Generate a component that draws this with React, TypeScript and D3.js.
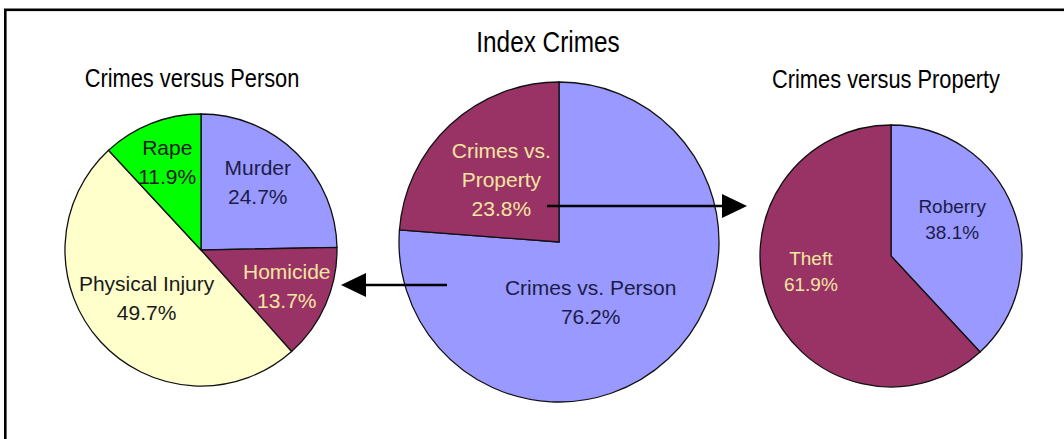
import React from "react";
import * as d3 from "d3";

// ---- data ----
const personCategories = ["Murder", "Homicide", "Physical Injury", "Rape"];
const personValues = [24.7, 13.7, 49.7, 11.9];

const indexCategories = ["Crimes vs. Person", "Crimes vs. Property"];
const indexLabelLines = [["Crimes vs. Person"], ["Crimes vs.", "Property"]];
const indexValues = [76.2, 23.8];

const propertyCategories = ["Roberry", "Theft"];
const propertyValues = [38.1, 61.9];

const titles = ["Crimes versus Person", "Index Crimes", "Crimes versus Property"];

// ---- styles / layout ----
const LAV = "#9999FF";
const PLUM = "#993366";
const CREAM = "#FFFFCC";
const GREEN = "#00FF00";
const DARK = "#1c1c48";
const BLACK = "#1a1a1a";
const LIGHT = "#F5E6A0";
const FONT = "'Liberation Sans', Arial, sans-serif";

type PieSpec = {
  cx: number; cy: number; r: number;
  labels: string[][]; values: number[];
  colors: string[]; textColors: string[];
  labelK: number; nudges: [number, number][];
  fontSize: number; lineH: number;
};

const pies: PieSpec[] = [
  {
    cx: 201, cy: 250, r: 136,
    labels: personCategories.map((c) => [c]),
    values: personValues,
    colors: [LAV, PLUM, CREAM, GREEN],
    textColors: [DARK, LIGHT, BLACK, BLACK],
    labelK: 0.68,
    nudges: [[-8, -2], [1, -1], [14, -14], [0, -2]],
    fontSize: 21, lineH: 28.5,
  },
  {
    cx: 559, cy: 242, r: 160,
    labels: indexLabelLines,
    values: indexValues,
    colors: [LAV, PLUM],
    textColors: [DARK, LIGHT],
    labelK: 0.53,
    nudges: [[-26, -2], [0, 0]],
    fontSize: 21, lineH: 29,
  },
  {
    cx: 891, cy: 256, r: 131,
    labels: propertyCategories.map((c) => [c]),
    values: propertyValues,
    colors: [LAV, PLUM],
    textColors: [DARK, LIGHT],
    labelK: 0.6,
    nudges: [[-12, -8], [-7, -13]],
    fontSize: 19, lineH: 26,
  },
];

const titleLayout = [
  { x: 192, y: 87, size: 26 },
  { x: 548, y: 51.5, size: 29 },
  { x: 886, y: 88, size: 26 },
];

const arrows = [
  { x1: 447, y1: 285, x2: 341, y2: 285 },
  { x1: 547, y1: 206, x2: 747, y2: 206 },
];

function Pie({ spec }: { spec: PieSpec }) {
  const pie = d3.pie<number>().sort(null).value((d) => d);
  const arcs = pie(spec.values);
  const arc = d3.arc<d3.PieArcDatum<number>>().innerRadius(0).outerRadius(spec.r);
  const labelArc = d3
    .arc<d3.PieArcDatum<number>>()
    .innerRadius(spec.r * spec.labelK)
    .outerRadius(spec.r * spec.labelK);
  return (
    <g transform={`translate(${spec.cx},${spec.cy})`}>
      {arcs.map((a, i) => (
        <path key={i} d={arc(a) || ""} fill={spec.colors[i]} stroke="#111" strokeWidth={1.3} strokeLinejoin="miter" />
      ))}
      {arcs.map((a, i) => {
        const [lx, ly] = labelArc.centroid(a);
        const x = lx + spec.nudges[i][0];
        const y = ly + spec.nudges[i][1];
        const lines = [...spec.labels[i], `${spec.values[i].toFixed(1)}%`];
        const top = y - ((lines.length - 1) * spec.lineH) / 2;
        return (
          <text key={"t" + i} textAnchor="middle" fontFamily={FONT} fontSize={spec.fontSize} fill={spec.textColors[i]}>
            {lines.map((l, j) => (
              <tspan key={j} x={x} y={top + j * spec.lineH} dy="0.35em">{l}</tspan>
            ))}
          </text>
        );
      })}
    </g>
  );
}

export default function App() {
  return (
    <svg width={1064} height={439} style={{ position: "absolute", left: 0, top: 0, background: "#fff" }}>
      <rect x={0} y={0} width={1064} height={439} fill="#fff" />
      <rect x={5.3} y={9.8} width={1200} height={600} fill="none" stroke="#000" strokeWidth={2.6} />
      {titles.map((t, i) => (
        <g key={t} transform={`translate(${titleLayout[i].x},${titleLayout[i].y}) scale(0.84,1)`}>
          <text textAnchor="middle" fontFamily={FONT} fontSize={titleLayout[i].size} fill="#000">{t}</text>
        </g>
      ))}
      {pies.map((p, i) => <Pie key={i} spec={p} />)}
      {arrows.map((a, i) => {
        const ang = Math.atan2(a.y2 - a.y1, a.x2 - a.x1);
        const hl = 25, hw = 12;
        const bx = a.x2 - hl * Math.cos(ang), by = a.y2 - hl * Math.sin(ang);
        const px = -Math.sin(ang) * hw, py = Math.cos(ang) * hw;
        return (
          <g key={"a" + i}>
            <line x1={a.x1} y1={a.y1} x2={bx} y2={by} stroke="#000" strokeWidth={2.4} />
            <polygon points={`${a.x2},${a.y2} ${bx + px},${by + py} ${bx - px},${by - py}`} fill="#000" />
          </g>
        );
      })}
    </svg>
  );
}
